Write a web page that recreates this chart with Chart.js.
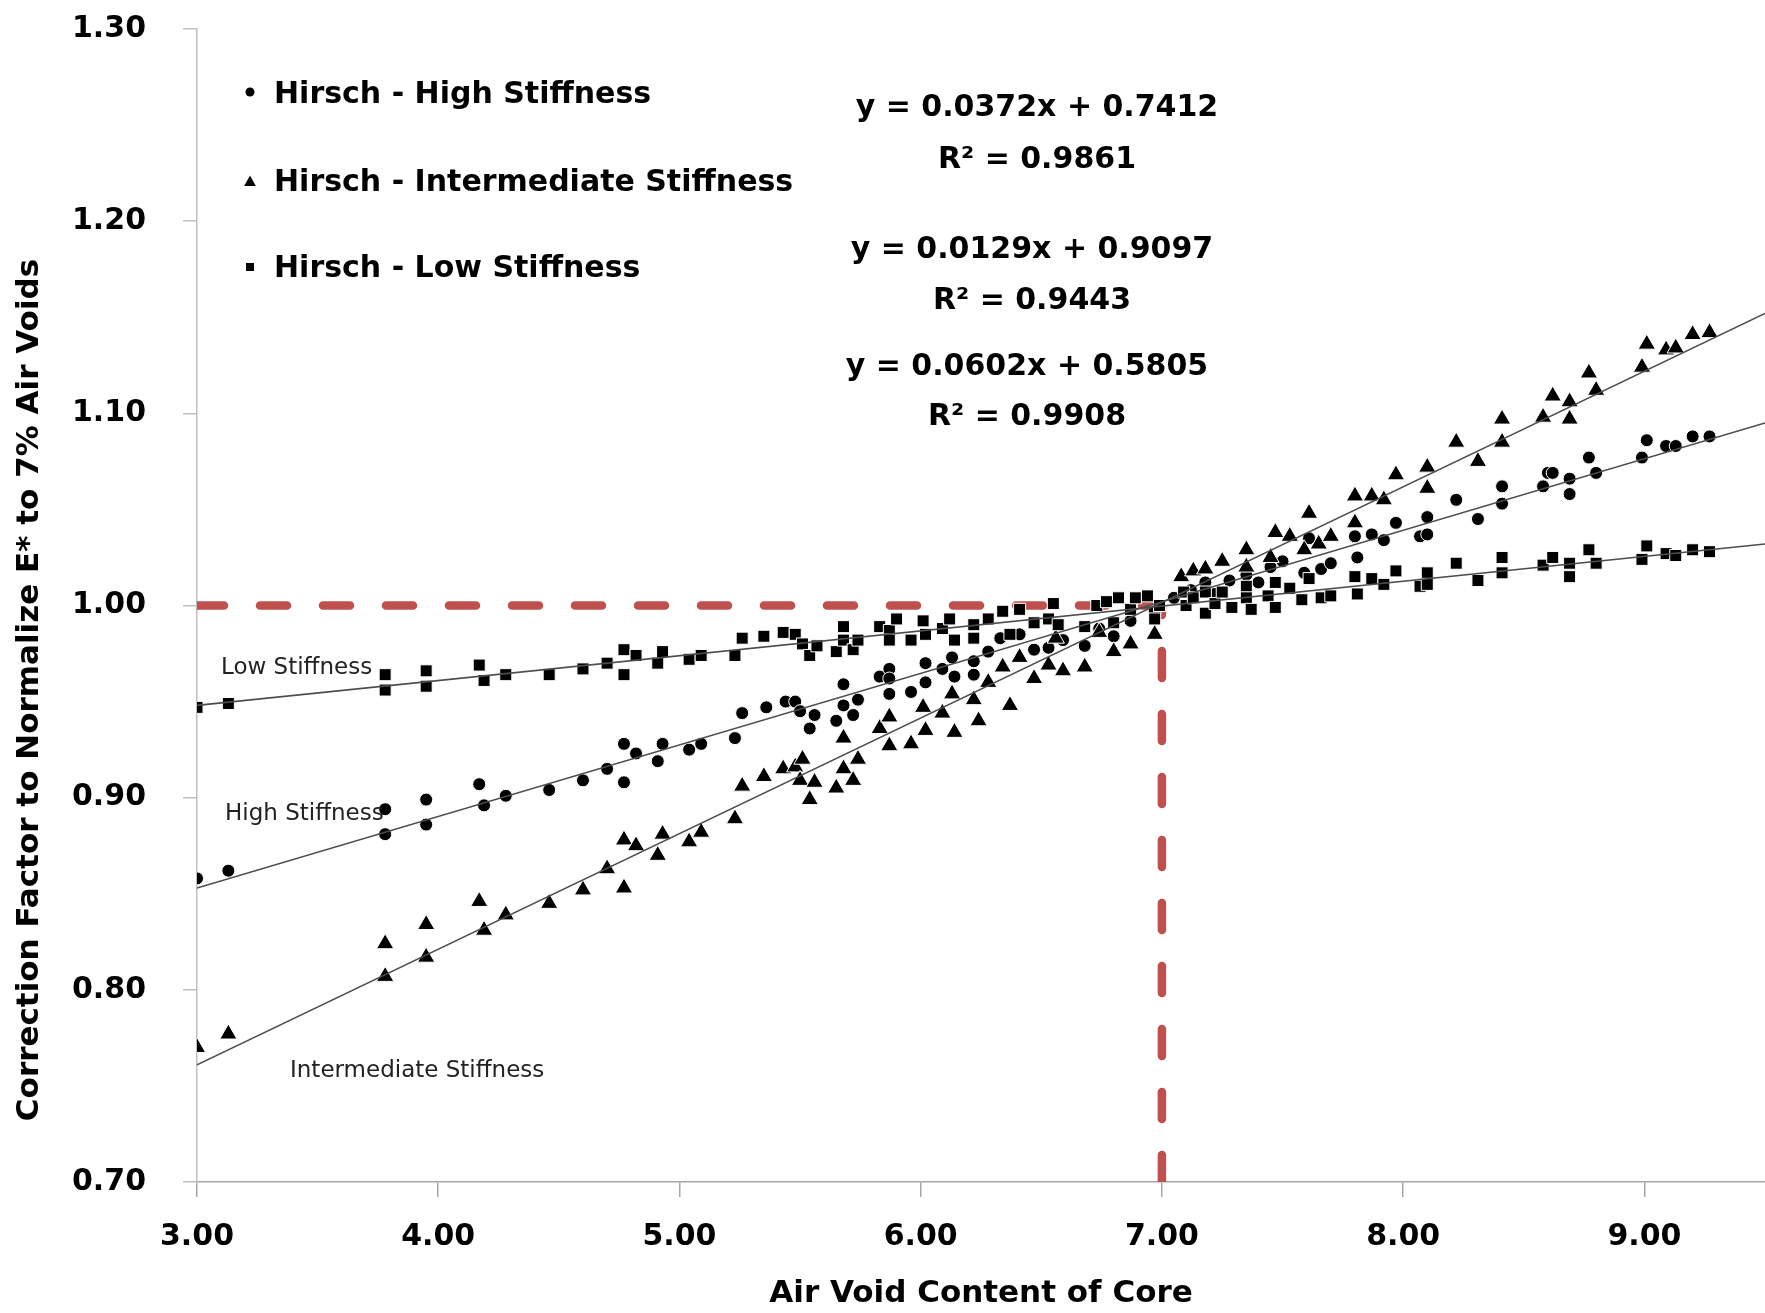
<!DOCTYPE html>
<html>
<head>
<meta charset="utf-8">
<title>Correction Factor vs Air Void Content</title>
<script src="https://cdn.jsdelivr.net/npm/chart.js@4.4.1/dist/chart.umd.min.js"></script>
<style>
  html, body { margin: 0; padding: 0; background: #fff; }
  #wrap { width: 1765px; height: 1313px; }
</style>
</head>
<body>
<div id="wrap"><canvas id="chart" width="1765" height="1313"></canvas></div>
<script>
// [air voids, correction factor]
var highStiffness = [
  [3.00,0.858],[3.13,0.862],[3.78,0.894],[3.78,0.881],[3.95,0.899],[3.95,0.886],[4.17,0.907],[4.19,0.896],[4.28,0.901],
  [4.46,0.904],[4.60,0.909],[4.70,0.915],[4.77,0.928],[4.77,0.908],[4.82,0.923],[4.91,0.919],[4.93,0.928],[5.04,0.925],
  [5.09,0.928],[5.23,0.931],[5.26,0.944],[5.36,0.947],[5.44,0.950],[5.48,0.950],[5.50,0.945],[5.54,0.936],[5.56,0.943],
  [5.65,0.940],[5.68,0.959],[5.68,0.948],[5.72,0.943],[5.74,0.951],[5.83,0.963],[5.87,0.967],[5.87,0.962],[5.87,0.954],
  [5.96,0.955],[6.02,0.970],[6.02,0.960],[6.09,0.967],[6.13,0.973],[6.14,0.963],[6.22,0.971],[6.22,0.964],[6.28,0.976],
  [6.33,0.983],[6.41,0.985],[6.47,0.977],[6.53,0.978],[6.59,0.982],[6.68,0.979],[6.74,0.988],[6.80,0.984],[6.87,0.992],
  [6.97,0.997],[7.05,1.004],[7.12,1.008],[7.18,1.012],[7.22,1.006],[7.28,1.013],[7.35,1.016],[7.40,1.012],[7.45,1.020],
  [7.50,1.023],[7.59,1.017],[7.61,1.035],[7.66,1.019],[7.70,1.022],[7.80,1.036],[7.81,1.025],[7.87,1.037],[7.92,1.034],
  [7.97,1.043],[8.07,1.036],[8.10,1.046],[8.10,1.037],[8.22,1.055],[8.31,1.045],[8.41,1.062],[8.41,1.053],[8.58,1.062],
  [8.60,1.069],[8.62,1.069],[8.69,1.066],[8.69,1.058],[8.77,1.077],[8.80,1.069],[8.99,1.077],[9.01,1.086],[9.09,1.083],
  [9.13,1.083],[9.20,1.088],[9.27,1.088]
];
var intermediateStiffness = [
  [3.00,0.770],[3.13,0.777],[3.78,0.824],[3.78,0.807],[3.95,0.834],[3.95,0.817],[4.17,0.846],[4.19,0.831],[4.28,0.839],
  [4.46,0.845],[4.60,0.852],[4.70,0.863],[4.77,0.878],[4.77,0.853],[4.82,0.875],[4.91,0.870],[4.93,0.881],[5.04,0.877],
  [5.09,0.882],[5.23,0.889],[5.26,0.906],[5.35,0.911],[5.43,0.915],[5.48,0.916],[5.50,0.909],[5.51,0.920],[5.54,0.899],
  [5.56,0.908],[5.65,0.905],[5.68,0.931],[5.68,0.915],[5.72,0.909],[5.74,0.920],[5.83,0.936],[5.87,0.942],[5.87,0.927],
  [5.96,0.928],[6.01,0.947],[6.02,0.935],[6.09,0.944],[6.13,0.954],[6.14,0.934],[6.22,0.951],[6.24,0.940],[6.28,0.960],
  [6.34,0.968],[6.37,0.948],[6.41,0.973],[6.47,0.962],[6.53,0.969],[6.56,0.983],[6.59,0.966],[6.68,0.968],[6.74,0.986],
  [6.80,0.976],[6.87,0.980],[6.97,0.985],[7.08,1.015],[7.13,1.018],[7.18,1.019],[7.25,1.023],[7.35,1.029],[7.35,1.020],
  [7.45,1.025],[7.47,1.038],[7.53,1.036],[7.59,1.029],[7.61,1.048],[7.65,1.032],[7.70,1.036],[7.80,1.057],[7.80,1.043],
  [7.87,1.057],[7.92,1.055],[7.97,1.068],[8.10,1.072],[8.10,1.061],[8.22,1.085],[8.31,1.075],[8.41,1.097],[8.41,1.085],
  [8.58,1.098],[8.62,1.109],[8.69,1.106],[8.69,1.097],[8.77,1.121],[8.80,1.112],[8.99,1.124],[9.01,1.136],[9.09,1.133],
  [9.13,1.134],[9.20,1.141],[9.27,1.142]
];
var lowStiffness = [
  [3.00,0.947],[3.13,0.949],[3.78,0.964],[3.78,0.956],[3.95,0.966],[3.95,0.958],[4.17,0.969],[4.19,0.961],[4.28,0.964],
  [4.46,0.964],[4.60,0.967],[4.70,0.970],[4.77,0.977],[4.77,0.964],[4.82,0.974],[4.91,0.970],[4.93,0.976],[5.04,0.972],
  [5.09,0.974],[5.23,0.974],[5.26,0.983],[5.35,0.984],[5.43,0.986],[5.48,0.985],[5.51,0.980],[5.54,0.974],[5.57,0.979],
  [5.65,0.976],[5.68,0.989],[5.68,0.982],[5.72,0.977],[5.74,0.982],[5.83,0.989],[5.87,0.987],[5.87,0.982],[5.90,0.993],
  [5.96,0.982],[6.01,0.992],[6.02,0.985],[6.09,0.988],[6.12,0.993],[6.14,0.982],[6.22,0.990],[6.22,0.983],[6.28,0.993],
  [6.34,0.997],[6.37,0.985],[6.41,0.998],[6.47,0.991],[6.53,0.993],[6.55,1.001],[6.57,0.990],[6.68,0.989],[6.73,1.000],
  [6.77,1.002],[6.80,0.991],[6.82,1.004],[6.87,0.998],[6.89,1.004],[6.94,1.005],[6.97,0.993],[6.99,1.000],[7.09,1.007],
  [7.10,1.000],[7.13,1.004],[7.18,0.996],[7.18,1.007],[7.22,1.001],[7.25,1.007],[7.29,0.999],[7.35,1.010],[7.35,1.004],
  [7.37,0.998],[7.44,1.005],[7.47,1.012],[7.47,0.999],[7.53,1.009],[7.58,1.003],[7.61,1.014],[7.66,1.004],[7.70,1.005],
  [7.80,1.015],[7.81,1.006],[7.87,1.014],[7.92,1.011],[7.97,1.018],[8.07,1.010],[8.10,1.017],[8.10,1.011],[8.22,1.022],
  [8.31,1.013],[8.41,1.025],[8.41,1.017],[8.58,1.021],[8.62,1.025],[8.69,1.022],[8.69,1.015],[8.77,1.029],[8.80,1.022],
  [8.99,1.024],[9.01,1.031],[9.09,1.027],[9.13,1.026],[9.20,1.029],[9.27,1.028]
];

// linear trendline end points (x = 3.0 and x = 9.5)
var trendX = [3.0, 9.5];
var highTrendY = [0.853, 1.095];
var intermediateTrendY = [0.761, 1.152];
var lowTrendY = [0.948, 1.032];

// red reference lines at 7 % air voids / factor 1.00
var refH = [[3.0, 1.0], [7.0, 1.0]];
var refV = [[7.0, 0.7], [7.0, 1.0]];

var seriesNames = ['Hirsch - High Stiffness', 'Hirsch - Intermediate Stiffness', 'Hirsch - Low Stiffness'];
var equations = [
  ['y = 0.0372x + 0.7412', 'R\u00b2 = 0.9861'],
  ['y = 0.0129x + 0.9097', 'R\u00b2 = 0.9443'],
  ['y = 0.0602x + 0.5805', 'R\u00b2 = 0.9908']
];
var curveLabels = ['Low Stiffness', 'High Stiffness', 'Intermediate Stiffness'];
var xTitle = 'Air Void Content of Core';
var yTitle = 'Correction Factor to Normalize E* to 7% Air Voids';

var FONT = '"DejaVu Sans", Verdana, sans-serif';

function toPts(pairs) {
  return pairs.map(function(p) { return { x: p[0], y: p[1] }; });
}
function trend(ys) {
  return trendX.map(function(x, i) { return { x: x, y: ys[i] }; });
}

function drawMarker(ctx, style, x, y, r) {
  ctx.beginPath();
  if (style === 'circle') {
    ctx.arc(x, y, r, 0, Math.PI * 2);
  } else if (style === 'triangle') {
    ctx.moveTo(x, y - r);
    ctx.lineTo(x + r * 0.9, y + r * 0.6);
    ctx.lineTo(x - r * 0.9, y + r * 0.6);
    ctx.closePath();
  } else {
    ctx.rect(x - r, y - r, 2 * r, 2 * r);
  }
  ctx.fill();
}

// legend, equations, curve labels and rotated y title
var overlay = {
  id: 'overlay',
  afterDraw: function(chart) {
    var ctx = chart.ctx;
    ctx.save();
    ctx.fillStyle = '#000';

    // legend
    var styles = ['circle', 'triangle', 'rect'];
    var legY = [103, 191, 277];
    var markY = [92, 182, 267];
    var markR = [4.5, 6.5, 4];
    ctx.font = 'bold 30px ' + FONT;
    ctx.textAlign = 'left';
    ctx.textBaseline = 'alphabetic';
    for (var i = 0; i < 3; i++) {
      drawMarker(ctx, styles[i], 250, markY[i], markR[i]);
      ctx.fillText(seriesNames[i], 274, legY[i]);
    }

    // trendline equations
    var eqX = [1037, 1032, 1027];
    var eqY = [[116, 168], [258, 309], [375, 425]];
    ctx.textAlign = 'center';
    for (var j = 0; j < 3; j++) {
      ctx.fillText(equations[j][0], eqX[j], eqY[j][0]);
      ctx.fillText(equations[j][1], eqX[j], eqY[j][1]);
    }

    // curve labels
    ctx.font = '23px ' + FONT;
    ctx.fillStyle = '#222';
    ctx.textAlign = 'left';
    ctx.fillText(curveLabels[0], 221, 674);
    ctx.fillText(curveLabels[1], 225, 820);
    ctx.fillText(curveLabels[2], 290, 1077);

    // y axis title
    ctx.fillStyle = '#000';
    ctx.font = 'bold 31px ' + FONT;
    ctx.translate(30, 690);
    ctx.rotate(-Math.PI / 2);
    ctx.textAlign = 'center';
    ctx.textBaseline = 'middle';
    ctx.fillText(yTitle, 0, 0);
    ctx.restore();
  }
};

var markerBase = {
  type: 'scatter',
  pointBackgroundColor: '#000',
  pointBorderColor: '#fff',
  pointBorderWidth: 1,
  pointHoverRadius: 0,
  showLine: false
};

function series(label, pairs, style, radius, order) {
  return Object.assign({}, markerBase, {
    label: label,
    data: toPts(pairs),
    pointStyle: style,
    pointRadius: radius,
    order: order
  });
}

function lineSet(label, data, color, width, dash, order) {
  return {
    type: 'scatter',
    label: label,
    data: data,
    showLine: true,
    borderColor: color,
    borderWidth: width,
    borderDash: dash,
    borderCapStyle: dash.length ? 'round' : 'butt',
    pointRadius: 0,
    pointHoverRadius: 0,
    fill: false,
    order: order
  };
}

new Chart(document.getElementById('chart'), {
  type: 'scatter',
  data: {
    datasets: [
      lineSet('High trend', trend(highTrendY), '#4d4d4d', 1.6, [], 0),
      lineSet('Intermediate trend', trend(intermediateTrendY), '#4d4d4d', 1.6, [], 0),
      lineSet('Low trend', trend(lowTrendY), '#4d4d4d', 1.6, [], 0),
      series(seriesNames[2], lowStiffness, 'rect', 8.5, 1),
      series(seriesNames[1], intermediateStiffness, 'triangle', 10, 2),
      series(seriesNames[0], highStiffness, 'circle', 6.5, 3),
      lineSet('1.00 line', toPts(refH), '#c0504d', 8.5, [27, 36], 5),
      lineSet('7% line', toPts(refV), '#c0504d', 8.5, [27, 36], 5)
    ]
  },
  options: {
    responsive: false,
    animation: false,
    events: [],
    layout: { autoPadding: false, padding: { top: 29, right: 0, bottom: 0, left: 0 } },
    plugins: {
      legend: { display: false },
      tooltip: { enabled: false }
    },
    scales: {
      x: {
        type: 'linear',
        min: 3,
        max: 9.5,
        afterFit: function(scale) {
          scale.height = 131;
          scale.paddingLeft = 0;
          scale.paddingRight = 0;
        },
        ticks: {
          stepSize: 1,
          includeBounds: false,
          maxRotation: 0,
          padding: 22,
          color: '#000',
          font: { family: FONT, size: 30, weight: 'bold' },
          callback: function(v) { return Number(v).toFixed(2); }
        },
        grid: { drawOnChartArea: false, tickLength: 15, color: '#a6a6a6', lineWidth: 1.5 },
        border: { color: '#a6a6a6', width: 1.5 },
        title: {
          display: true,
          text: xTitle,
          color: '#000',
          font: { family: FONT, size: 31, weight: 'bold' },
          padding: { top: 0, bottom: 0 }
        }
      },
      y: {
        type: 'linear',
        min: 0.7,
        max: 1.3,
        afterFit: function(scale) {
          scale.width = 197;
          scale.paddingTop = 0;
          scale.paddingBottom = 0;
        },
        ticks: {
          stepSize: 0.1,
          padding: 37,
          color: '#000',
          font: { family: FONT, size: 30, weight: 'bold' },
          callback: function(v) { return Number(v).toFixed(2); }
        },
        grid: { drawOnChartArea: false, tickLength: 14, color: '#bfbfbf', lineWidth: 1.5 },
        border: { color: '#bfbfbf', width: 1.5 }
      }
    }
  },
  plugins: [overlay]
});
</script>
</body>
</html>
